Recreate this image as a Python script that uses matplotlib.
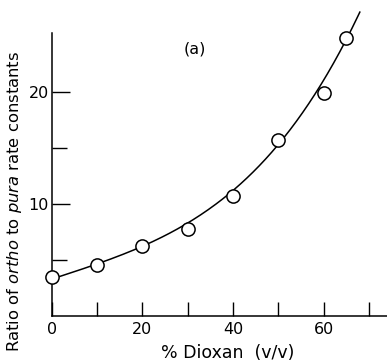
import matplotlib
matplotlib.use('Agg')
import matplotlib.pyplot as plt
import numpy as np

# measured points
dioxan = [0, 10, 20, 30, 40, 50, 60, 65]
ratio = [3.5, 4.6, 6.3, 7.8, 10.7, 15.7, 19.9, 24.9]

# smooth curve drawn through the data
curve_x = [0, 10, 20, 30, 40, 50, 60, 65, 68]
curve_y = [3.3, 4.7, 6.3, 8.2, 11.2, 15.6, 20.8, 24.8, 27.2]

fig = plt.figure(figsize=(3.87, 3.63), dpi=100)
ax = fig.add_axes([0.134, 0.129, 0.866, 0.78])

coef = np.polyfit(curve_x, curve_y, 4)
xs = np.linspace(0, 68, 200)
ax.plot(xs, np.polyval(coef, xs), color='black', lw=1.1, clip_on=False, zorder=2)
ax.plot(dioxan, ratio, 'o', ms=9.5, mfc='white', mec='black', mew=1.1,
        clip_on=False, zorder=3)

ax.set_xlim(0, 74)
ax.set_ylim(0, 25.3)
ax.spines['top'].set_visible(False)
ax.spines['right'].set_visible(False)
for s in ['left', 'bottom']:
    ax.spines[s].set_linewidth(1.1)

ax.set_xticks([0, 20, 40, 60])
ax.set_xticks([10, 30, 50, 70], minor=True)
ax.set_yticks([10, 20])
ax.set_yticks([5, 15], minor=True)
ax.tick_params(axis='x', which='both', direction='in', length=10, width=1, labelsize=11.5, pad=4)
ax.tick_params(axis='y', which='major', direction='in', length=13, width=1, labelsize=11.5, pad=2)
ax.tick_params(axis='y', which='minor', direction='in', length=11, width=1)

ax.set_xlabel('% Dioxan  (v/v)', fontsize=12.5)
ax.xaxis.set_label_coords(0.525, -0.1)
ax.set_ylabel(r'Ratio of $\it{ortho}$ to $\it{pura}$ rate constants', fontsize=11.8)
ax.yaxis.set_label_coords(-0.082, 0.405)
ax.text(31.5, 23.9, '(a)', fontsize=11.5, ha='center', va='center')

fig.savefig('out.png', dpi=100)
